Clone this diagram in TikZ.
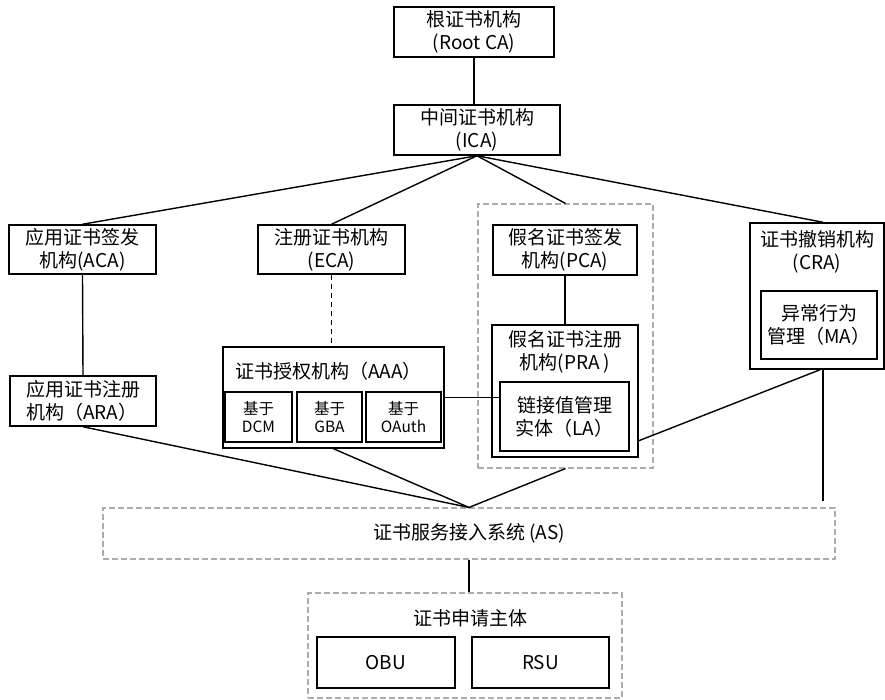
\documentclass[tikz,border=0pt]{standalone}
\usepackage{fontspec}
\setmainfont{Noto Sans CJK SC}
\usepackage{tikz}
\usetikzlibrary{positioning,calc}

\begin{document}
\begin{tikzpicture}[x=1pt,y=-1pt,
        box/.style={draw,line width=1.5pt,align=center,inner sep=0pt,font=\fontsize{19}{23}\selectfont},
        smallbox/.style={draw,line width=1.5pt,align=center,inner sep=0pt,font=\fontsize{15.5}{18}\selectfont},
        grpbox/.style={draw=gray!65,dash pattern=on 6pt off 3pt,line width=1.1pt,inner sep=0pt,font=\fontsize{19}{23}\selectfont},
        lbl/.style={align=center,inner sep=0pt,font=\fontsize{19}{23}\selectfont},
        conn/.style={line width=1.4pt}]
        \useasboundingbox (0,0) rectangle (885,700);
        %Top
        \node[box,minimum width=160pt,minimum height=50pt] (root) at (474,32) {根证书机构\\(Root CA)};
        \node[box,minimum width=166pt,minimum height=50pt] (ica) at (477,130) {中间证书机构\\(ICA)};
        %Second level
        \node[box,minimum width=147pt,minimum height=49pt] (aca) at (82.5,249.5) {应用证书签发\\机构(ACA)};
        \node[box,minimum width=147pt,minimum height=49pt] (eca) at (331.5,249.5) {注册证书机构\\(ECA)};
        \node[grpbox,minimum width=175pt,minimum height=264pt] (pgrp) at (565.5,336) {};
        \node[box,minimum width=144pt,minimum height=50pt] (pca) at (565,250) {假名证书签发\\机构(PCA)};
        \node[box,minimum width=134pt,minimum height=146pt] (cra) at (817,296) {};
        \node[lbl] (craT) at (817,252) {证书撤销机构\\(CRA)};
        \node[box,minimum width=116pt,minimum height=68pt] (ma) at (819,325) {异常行为\\管理（MA）};
        %Third level
        \node[box,minimum width=146pt,minimum height=50pt,align=left] (ara) at (83,401) {应用证书注册\\机构（ARA）};
        \node[box,minimum width=221pt,minimum height=101pt] (aaa) at (333.5,397.5) {};
        \node[lbl,anchor=west] (aaaT) at (235,371) {证书授权机构（AAA）};
        \node[smallbox,minimum width=67pt,minimum height=50pt] (dcm) at (258.5,417) {基于\\DCM};
        \node[smallbox,minimum width=65pt,minimum height=50pt] (gba) at (329.5,417) {基于\\GBA};
        \node[smallbox,minimum width=75pt,minimum height=50pt] (oauth) at (403.5,417) {基于\\OAuth};
        \node[box,minimum width=146pt,minimum height=132pt] (pra) at (565,391) {};
        \node[lbl] (praT) at (565,352) {假名证书注册\\机构(PRA )};
        \node[box,minimum width=129pt,minimum height=69pt] (la) at (564.5,416.5) {链接值管理\\实体（LA）};
        %Bottom
        \node[grpbox,minimum width=732pt,minimum height=51pt] (as) at (469,533.5) {证书服务接入系统 (AS)};
        \node[grpbox,minimum width=314pt,minimum height=105pt] (app) at (465,645.5) {};
        \node[lbl] (appT) at (470,618) {证书申请主体};
        \node[box,minimum width=138pt,minimum height=51pt] (obu) at (386,662.5) {OBU};
        \node[box,minimum width=137pt,minimum height=51pt] (rsu) at (540.5,662.5) {RSU};
        \coordinate (craEnd) at (823,501);
        %Lines
        \draw[conn] (root.south) -- (root.south |- ica.north);
        \draw[conn] (ica.south) -- (aca.north);
        \draw[conn] (ica.south) -- (eca.north);
        \draw[conn] (ica.south) -- (pgrp.north);
        \draw[conn] (ica.south) -- ([xshift=6pt]cra.north);
        \draw[conn] (aca.south) -- (ara.north);
        \draw[conn,dash pattern=on 5pt off 4pt] (eca.south) -- (eca.south |- aaa.north);
        \draw[conn] (pca.south) -- (pra.north);
        \draw[conn] (aaa.east) -- (aaa.east -| la.west);
        \draw[conn] ([yshift=17pt]pra.south east) -- ([xshift=3pt]cra.south);
        \draw[conn] ([xshift=6pt]cra.south) -- (craEnd);
        \draw[conn] (ara.south) -- (as.north);
        \draw[conn] (aaa.south) -- (as.north);
        \draw[conn] (pgrp.south) -- (as.north);
        \draw[conn] (as.south) -- (as.south |- app.north);
\end{tikzpicture}
\end{document}
